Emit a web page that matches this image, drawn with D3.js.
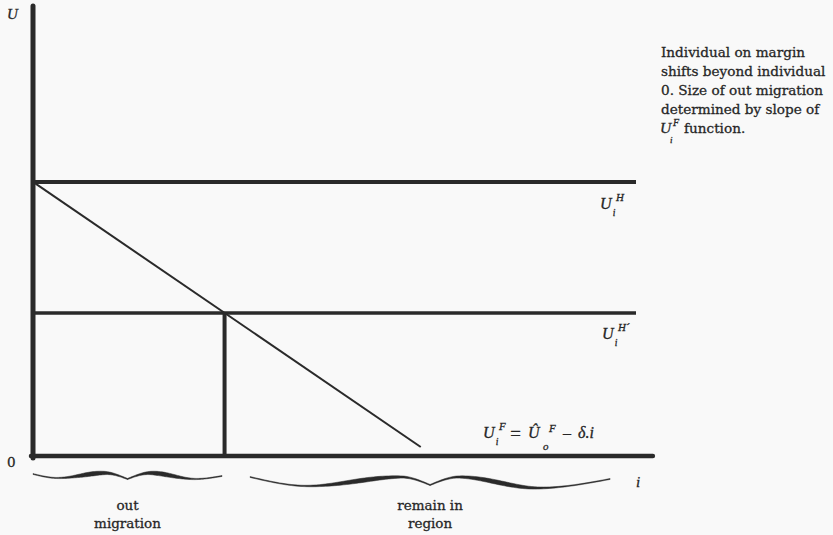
<!DOCTYPE html>
<html><head><meta charset="utf-8">
<script src="https://cdn.jsdelivr.net/npm/d3@7"></script>
<style>
html,body{margin:0;padding:0;background:#f9f9f9;}
svg{display:block;}
text{font-family:"DejaVu Serif",serif;fill:#262626;stroke:#262626;stroke-width:0.3px;}
text.m{font-family:"Liberation Serif","DejaVu Serif",serif;font-style:italic;}
</style></head>
<body><svg id="c" width="833" height="535"></svg>
<script>
// ---- data ----
const iDomain = [0, 100];
const uDomain = [0, 10];
const xAxisEnd = 102.8;
const levelNames = ["H", "H´"];
const levelValues = [6.09, 3.18];
const uF0 = 6.09;          // intercept of U_i^F
const deltaSlope = 0.0916; // slope delta
const iEnd = 64.3;         // end of U_i^F line
const iStar = (uF0 - levelValues[1]) / deltaSlope; // marginal individual after shift
const braceLabels = [["out", "migration"], ["remain in", "region"]];
const braceSpans = [[0, 31.35], [36.0, 95.7]];
const note = ["Individual on margin", "shifts beyond individual", "0. Size of out migration", "determined by slope of", "function."];

// ---- scales ----
const x = d3.scaleLinear().domain(iDomain).range([33, 636]);
const y = d3.scaleLinear().domain(uDomain).range([456, 6]);
const svg = d3.select("#c");
const ink = "#2a2a2a";

// U_i^H lines
levelValues.forEach((v, k) => {
  svg.append("line").attr("x1", x(0)).attr("x2", x(100))
    .attr("y1", y(v)).attr("y2", y(v))
    .attr("stroke", ink).attr("stroke-width", k === 0 ? 4 : 3.5);
});
// U_i^F line
svg.append("line").attr("x1", x(0)).attr("y1", y(uF0))
  .attr("x2", x(iEnd)).attr("y2", y(uF0 - deltaSlope * iEnd))
  .attr("stroke", ink).attr("stroke-width", 2);
// vertical at marginal individual
svg.append("line").attr("x1", x(iStar)).attr("x2", x(iStar))
  .attr("y1", y(levelValues[1])).attr("y2", y(0))
  .attr("stroke", ink).attr("stroke-width", 4);
// axes
svg.append("line").attr("x1", x(0)).attr("x2", x(0)).attr("y1", y(10)).attr("y2", y(0) + 2)
  .attr("stroke", ink).attr("stroke-width", 5).attr("stroke-linecap", "round");
svg.append("line").attr("x1", x(0) - 2).attr("x2", x(xAxisEnd)).attr("y1", y(0)).attr("y2", y(0))
  .attr("stroke", ink).attr("stroke-width", 4.5).attr("stroke-linecap", "round");

// axis labels
svg.append("text").attr("class", "m").attr("x", 7).attr("y", 19).attr("font-size", 15).text("U");
svg.append("text").attr("x", 7).attr("y", 467).attr("font-size", 13.5).text("0");
svg.append("text").attr("class", "m").attr("x", 636).attr("y", 487).attr("font-size", 15).text("i");

// U with super/subscript helper
function uLabel(px, py, sup, sub, size) {
  const g = svg.append("g");
  g.append("text").attr("class", "m").attr("x", px).attr("y", py).attr("font-size", size).text("U");
  g.append("text").attr("class", "m").attr("x", px + size * 1.0).attr("y", py - size * 0.5).attr("font-size", size * 0.68).text(sup);
  g.append("text").attr("class", "m").attr("x", px + size * 0.8).attr("y", py + size * 0.45).attr("font-size", size * 0.6).text(sub);
  return g;
}
uLabel(600, 209, levelNames[0], "i", 16);
uLabel(602, 339, levelNames[1], "i", 16);

// equation
uLabel(483, 438, "F", "i", 16);
svg.append("text").attr("class", "m").attr("x", 509).attr("y", 440).attr("font-size", 19).attr("font-style", "normal").text("=");
svg.append("text").attr("class", "m").attr("x", 528).attr("y", 438).attr("font-size", 16).text("Û");
svg.append("text").attr("class", "m").attr("x", 549).attr("y", 432).attr("font-size", 11).text("F");
svg.append("text").attr("class", "m").attr("x", 543).attr("y", 450).attr("font-size", 11).text("o");
svg.append("text").attr("class", "m").attr("x", 563).attr("y", 438).attr("font-size", 16).attr("font-style", "normal").text("–");
svg.append("text").attr("class", "m").attr("x", 578).attr("y", 438).attr("font-size", 16).text("δ.i");

// braces: [fraction of width, offset in px] for each half (end -> cusp)
const braceShapes = [
  { yb: 474, pts: [[0, 0], [0.13, 4], [0.38, -1], [0.5, 5]], rpts: [[0.5, 5], [0.62, -1], [0.86, 5], [1, 2]] },
  { yb: 477, pts: [[0, 0], [0.16, 9], [0.42, 0], [0.5, 8]], rpts: [[0.5, 8], [0.58, 0], [0.8, 11], [1, 2]] }
];
function halfOutline(x0, w, yb, pts, fromEnd) {
  const line = d3.line().curve(d3.curveMonotoneX);
  const p = pts.map(d => [x0 + d[0] * w, yb + d[1]]);
  const tmp = svg.append("path").attr("d", line(p)).attr("fill", "none");
  const node = tmp.node(), L = node.getTotalLength();
  const up = [], dn = [];
  const n = 60;
  for (let k = 0; k <= n; k++) {
    const q = node.getPointAtLength(L * k / n);
    const f = fromEnd ? k / n : 1 - k / n;
    const t = 0.9 + 3.4 * Math.exp(-Math.pow((f - 0.62) / 0.22, 2));
    up.push([q.x, q.y - t / 2]);
    dn.push([q.x, q.y + t / 2]);
  }
  tmp.remove();
  return up.concat(dn.reverse());
}
braceSpans.forEach((s, k) => {
  const sh = braceShapes[k];
  const x0 = x(s[0]), w = x(s[1]) - x(s[0]);
  const left = halfOutline(x0, w, sh.yb, sh.pts, true);
  const right = halfOutline(x0, w, sh.yb, sh.rpts, false);
  [left, right].forEach(poly => {
    svg.append("path").attr("d", "M" + poly.join("L") + "Z")
      .attr("fill", ink).attr("stroke", ink).attr("stroke-width", 0.5).attr("stroke-linejoin", "round");
  });
  const cx = x((s[0] + s[1]) / 2);
  braceLabels[k].forEach((t, j) => {
    svg.append("text").attr("x", cx).attr("y", 510 + j * 18)
      .attr("text-anchor", "middle").attr("font-size", 13.5).text(t);
  });
});

// note
note.forEach((t, j) => {
  if (j < 4) {
    svg.append("text").attr("x", 661).attr("y", 57 + j * 18.9).attr("font-size", 13.6).text(t);
  }
});
const ny = 57 + 4 * 18.9;
svg.append("text").attr("class", "m").attr("x", 660).attr("y", ny).attr("font-size", 15.5).text("U");
svg.append("text").attr("class", "m").attr("x", 673).attr("y", ny - 7).attr("font-size", 10).text("F");
svg.append("text").attr("class", "m").attr("x", 670).attr("y", ny + 10).attr("font-size", 9).text("i");
svg.append("text").attr("x", 684).attr("y", ny).attr("font-size", 13.6).text(note[4]);
</script></body></html>
